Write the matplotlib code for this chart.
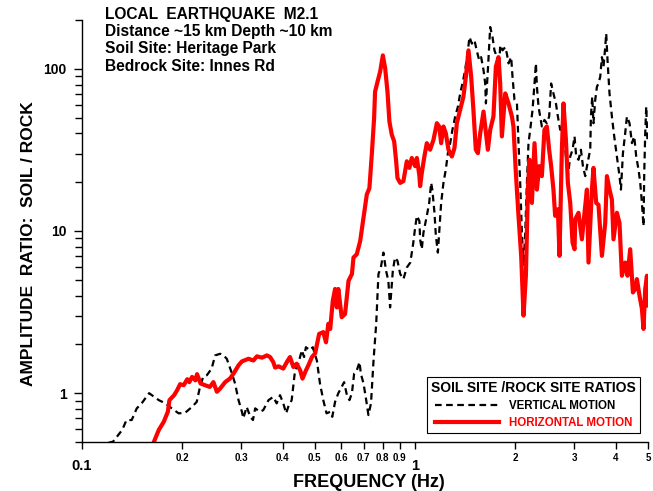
import matplotlib
matplotlib.use("Agg")
import matplotlib.pyplot as plt
from matplotlib.ticker import FixedLocator, FixedFormatter, LogLocator, NullFormatter

# horizontal motion ratio (red)
h_freq = [0.163, 0.170, 0.176, 0.181, 0.183, 0.189, 0.193, 0.197, 0.202, 0.207,
          0.210, 0.214, 0.219, 0.2215, 0.227, 0.234, 0.242, 0.248, 0.254, 0.260,
          0.269, 0.278, 0.285, 0.295, 0.302, 0.316, 0.327, 0.335, 0.347, 0.359,
          0.367, 0.375, 0.380, 0.389, 0.402, 0.412, 0.421, 0.431, 0.441, 0.452,
          0.459, 0.470, 0.478, 0.490, 0.501, 0.515, 0.530, 0.540, 0.549, 0.556,
          0.566, 0.575, 0.582, 0.588, 0.602, 0.616, 0.631, 0.646, 0.653, 0.668,
          0.684, 0.700, 0.716, 0.729, 0.741, 0.753, 0.758, 0.771, 0.785, 0.800,
          0.813, 0.826, 0.837, 0.851, 0.865, 0.877, 0.885, 0.902, 0.922, 0.944,
          0.961, 0.977, 1.000, 1.012, 1.030, 1.035, 1.047, 1.066, 1.084, 1.109,
          1.135, 1.162, 1.181, 1.197, 1.216, 1.236, 1.259, 1.289, 1.312, 1.334,
          1.365, 1.396, 1.420, 1.446, 1.473, 1.496, 1.521, 1.543, 1.568, 1.604,
          1.631, 1.653, 1.680, 1.718, 1.747, 1.779, 1.800, 1.821, 1.864, 1.907,
          1.952, 1.973, 2.006, 2.043, 2.081, 2.115, 2.150, 2.180, 2.204, 2.241,
          2.282, 2.320, 2.357, 2.401, 2.444, 2.485, 2.525, 2.560, 2.601, 2.632,
          2.682, 2.712, 2.757, 2.788, 2.835, 2.874, 2.921, 2.968, 3.009, 3.024,
          3.093, 3.166, 3.217, 3.278, 3.314, 3.393, 3.430, 3.495, 3.551, 3.636,
          3.720, 3.764, 3.832, 3.896, 3.939, 4.033, 4.106, 4.175, 4.271, 4.340,
          4.421, 4.505, 4.577, 4.631, 4.715, 4.794, 4.847, 4.905, 4.963, 5.018]
h_amp = [0.48, 0.593, 0.667, 0.768, 0.906, 0.972, 1.043, 1.136, 1.12, 1.22,
         1.17, 1.26, 1.20, 1.31, 1.147, 1.12, 1.093, 1.17, 1.02, 1.07,
         1.17, 1.23, 1.32, 1.485, 1.57, 1.63, 1.59, 1.687, 1.656, 1.71,
         1.67, 1.556, 1.438, 1.464, 1.418, 1.556, 1.67, 1.45, 1.52, 1.38,
         1.23, 1.38, 1.485, 1.67, 1.76, 2.32, 2.38, 2.06, 2.68, 2.49,
         3.72, 4.39, 3.38, 4.39, 2.94, 3.08, 4.93, 5.43, 6.86, 7.19,
         8.68, 12.07, 16.8, 18.4, 29.5, 49.6, 72.2, 83.2, 95.9, 121,
         100.4, 72.2, 47.3, 39.2, 35.7, 26.9, 21.2, 19.8, 20.3, 26.9,
         24.5, 28.2, 25.1, 28.2, 21.8, 18.9, 22.8, 28.8, 34.8, 31.7,
         36.5, 46.2, 44.1, 34.8, 44.1, 40.1, 31.7, 28.8, 32.4, 46.2,
         55.8, 67.3, 89.3, 130, 89.3, 55.8, 31.7, 30.2, 40.1, 54.5,
         40.1, 31.7, 42.1, 50.8, 103, 118, 81.2, 38.3, 70.5, 61.2,
         50.8, 44.1, 22.8, 12.4, 7.03, 3.01, 5.30, 18.0, 27.5, 14.9,
         34.8, 18.0, 25.1, 21.8, 42.1, 44.1, 31.7, 25.1, 18.0, 12.4,
         13.6, 7.03, 31.7, 61.2, 36.5, 19.8, 14.9, 8.48, 7.72, 11.8,
         12.95, 8.89, 12.4, 18.0, 6.39, 18.0, 24.5, 14.9, 14.5, 7.03,
         11.2, 21.8, 18.0, 15.6, 8.89, 12.95, 11.2, 5.30, 6.39, 5.30,
         7.72, 4.18, 4.39, 5.05, 3.99, 3.31, 2.49, 4.39, 5.30, 3.47]

# vertical motion ratio (black dashed)
v_freq = [0.120, 0.124, 0.132, 0.136, 0.141, 0.146, 0.151, 0.159, 0.170, 0.178,
          0.186, 0.195, 0.204, 0.214, 0.221, 0.226, 0.231, 0.237, 0.245, 0.251,
          0.260, 0.266, 0.272, 0.282, 0.288, 0.295, 0.302, 0.305, 0.312, 0.320,
          0.326, 0.331, 0.342, 0.350, 0.363, 0.375, 0.384, 0.393, 0.402, 0.410,
          0.416, 0.426, 0.436, 0.446, 0.457, 0.464, 0.470, 0.483, 0.493, 0.507,
          0.518, 0.530, 0.542, 0.556, 0.564, 0.575, 0.588, 0.602, 0.612, 0.624,
          0.635, 0.646, 0.656, 0.668, 0.681, 0.687, 0.700, 0.713, 0.724, 0.737,
          0.750, 0.764, 0.776, 0.789, 0.803, 0.818, 0.831, 0.841, 0.857, 0.870,
          0.885, 0.902, 0.922, 0.944, 0.967, 0.986, 1.000, 1.012, 1.030, 1.035,
          1.047, 1.059, 1.084, 1.102, 1.117, 1.126, 1.143, 1.154, 1.170, 1.181,
          1.197, 1.216, 1.236, 1.254, 1.274, 1.294, 1.319, 1.344, 1.365, 1.387,
          1.413, 1.440, 1.456, 1.480, 1.507, 1.530, 1.557, 1.578, 1.604, 1.623,
          1.631, 1.653, 1.669, 1.680, 1.707, 1.730, 1.759, 1.788, 1.800, 1.829,
          1.864, 1.885, 1.907, 1.942, 1.960, 1.987, 2.021, 2.043, 2.067, 2.091,
          2.115, 2.140, 2.165, 2.189, 2.215, 2.251, 2.282, 2.304, 2.320, 2.346,
          2.401, 2.444, 2.485, 2.525, 2.560, 2.601, 2.646, 2.682, 2.725, 2.788,
          2.835, 2.874, 2.921, 2.968, 3.009, 3.044, 3.093, 3.145, 3.189, 3.240,
          3.292, 3.354, 3.370, 3.401, 3.430, 3.472, 3.513, 3.551, 3.594, 3.636,
          3.677, 3.720, 3.746, 3.780, 3.832, 3.896, 3.959, 4.033, 4.106, 4.147,
          4.205, 4.271, 4.322, 4.401, 4.474, 4.546, 4.609, 4.683, 4.739, 4.794,
          4.847, 4.872, 4.905, 4.939, 4.984]
v_amp = [0.494, 0.503, 0.593, 0.683, 0.683, 0.806, 0.865, 1.0, 0.906, 0.865,
         0.806, 0.751, 0.757, 0.824, 0.884, 1.093, 1.26, 1.29, 1.418, 1.71,
         1.75, 1.71, 1.63, 1.32, 1.147, 0.906, 0.768, 0.70, 0.824, 0.715,
         0.683, 0.806, 0.768, 0.786, 0.906, 0.949, 0.865, 0.972, 0.865, 0.751,
         0.824, 0.906, 1.38, 1.52, 1.84, 1.67, 1.92, 1.84, 1.92, 1.59,
         1.147, 0.906, 0.751, 0.768, 0.715, 0.884, 1.0, 1.093, 1.17, 0.972,
         0.906, 1.0, 1.32, 1.38, 1.556, 1.32, 1.147, 0.906, 0.733, 0.865,
         1.59, 2.68, 5.43, 5.95, 7.36, 5.68, 4.93, 3.38, 5.68, 6.86,
         6.55, 5.43, 5.05, 5.95, 6.39, 8.29, 10.5, 12.4, 11.5, 8.89,
         7.72, 9.76, 12.4, 14.9, 19.8, 18.0, 12.95, 9.32, 7.36, 9.76,
         14.9, 19.8, 23.9, 30.2, 34.8, 42.1, 50.8, 58.5, 70.5, 81.2,
         98.2, 130, 157, 143, 150, 130, 113, 118, 98.2, 81.2,
         61.2, 98.2, 143, 181, 157, 130, 118, 103, 140, 130,
         136, 124, 108, 118, 89.3, 64.3, 61.2, 34.8, 19.8, 9.76,
         6.10, 9.76, 19.8, 34.8, 42.1, 55.8, 81.2, 108, 77.6, 58.5,
         44.1, 48.4, 46.2, 50.8, 81.2, 70.5, 61.2, 50.8, 42.1, 44.1,
         28.8, 21.8, 28.8, 31.7, 38.3, 28.8, 27.5, 31.7, 25.1, 21.8,
         26.2, 31.7, 50.8, 67.3, 46.2, 64.3, 77.6, 81.2, 89.3, 118,
         103, 136, 165, 113, 70.5, 50.8, 38.3, 28.8, 21.8, 18.0,
         30.2, 40.1, 50.8, 46.2, 34.8, 38.3, 28.8, 23.9, 19.8, 14.9,
         10.7, 22.8, 40.1, 58.5, 34.8]

x_major = [0.1, 1]
x_major_labels = ["0.1", "1"]
x_minor = [0.2, 0.3, 0.4, 0.5, 0.6, 0.7, 0.8, 0.9, 2, 3, 4, 5]
x_minor_labels = ["0.2", "0.3", "0.4", "0.5", "0.6", "0.7", "0.8", "0.9", "2", "3", "4", "5"]

header = ["LOCAL  EARTHQUAKE  M2.1",
          "Distance ~15 km Depth ~10 km",
          "Soil Site: Heritage Park",
          "Bedrock Site: Innes Rd"]

plt.rcParams["font.family"] = ["Liberation Sans", "DejaVu Sans"]
plt.rcParams["font.weight"] = "bold"

W, H = 653, 491
fig = plt.figure(figsize=(W / 100, H / 100), dpi=100)
ax = fig.add_axes([82 / W, 1 - 442 / H, 566 / W, 422 / H])

ax.plot(v_freq, v_amp, color="black", lw=1.6, dashes=(3, 2), label="VERTICAL MOTION")
ax.plot(h_freq, h_amp, color="red", lw=3, label="HORIZONTAL MOTION")

ax.set_xscale("log")
ax.set_yscale("log")
ax.set_xlim(0.1, 5)
ax.set_ylim(0.5, 200)

for side in ["top", "right"]:
    ax.spines[side].set_visible(False)
for side in ["left", "bottom"]:
    ax.spines[side].set_linewidth(1.0)

ax.xaxis.set_major_locator(FixedLocator(x_major))
ax.xaxis.set_major_formatter(FixedFormatter(x_major_labels))
ax.xaxis.set_minor_locator(FixedLocator(x_minor))
ax.xaxis.set_minor_formatter(FixedFormatter(x_minor_labels))
ax.tick_params(axis="x", which="major", labelsize=10.5, length=5, width=1, pad=7.5)
ax.tick_params(axis="x", which="minor", labelsize=7, length=5, width=1, pad=3)

ax.yaxis.set_major_locator(FixedLocator([1, 10, 100]))
ax.yaxis.set_major_formatter(FixedFormatter(["1", "10", "100"]))
ax.yaxis.set_minor_locator(LogLocator(base=10, subs=range(2, 10)))
ax.yaxis.set_minor_formatter(NullFormatter())
ax.tick_params(axis="y", which="major", labelsize=10, length=6, width=1, pad=5)
ax.tick_params(axis="y", which="minor", length=5, width=1)

ax.set_xlabel("FREQUENCY (Hz)", fontsize=13, fontweight="bold")
ax.xaxis.set_label_coords(0.507, -0.077)
ax.set_ylabel("AMPLITUDE  RATIO:  SOIL / ROCK", fontsize=12.5, fontweight="bold")
ax.yaxis.set_label_coords(-0.081, 0.47)

for i, line in enumerate(header):
    fig.text(105 / W, 1 - (18.5 + 17.5 * i) / H, line, fontsize=11.2,
             fontweight="bold", va="baseline", ha="left")

leg = ax.legend(title="SOIL SITE /ROCK SITE RATIOS", loc="lower right",
                bbox_to_anchor=(640 / W, 1 - 433 / H), bbox_transform=fig.transFigure,
                frameon=True, fancybox=False, edgecolor="black", framealpha=1,
                prop={"size": 8.3, "weight": "bold"},
                title_fontproperties={"size": 10, "weight": "bold"},
                handlelength=5.6, handletextpad=0.85, borderaxespad=0,
                borderpad=0.35, labelspacing=0.45)
leg.get_frame().set_linewidth(0.8)
leg.get_texts()[1].set_color("red")

fig.savefig("out.png", dpi=100)
